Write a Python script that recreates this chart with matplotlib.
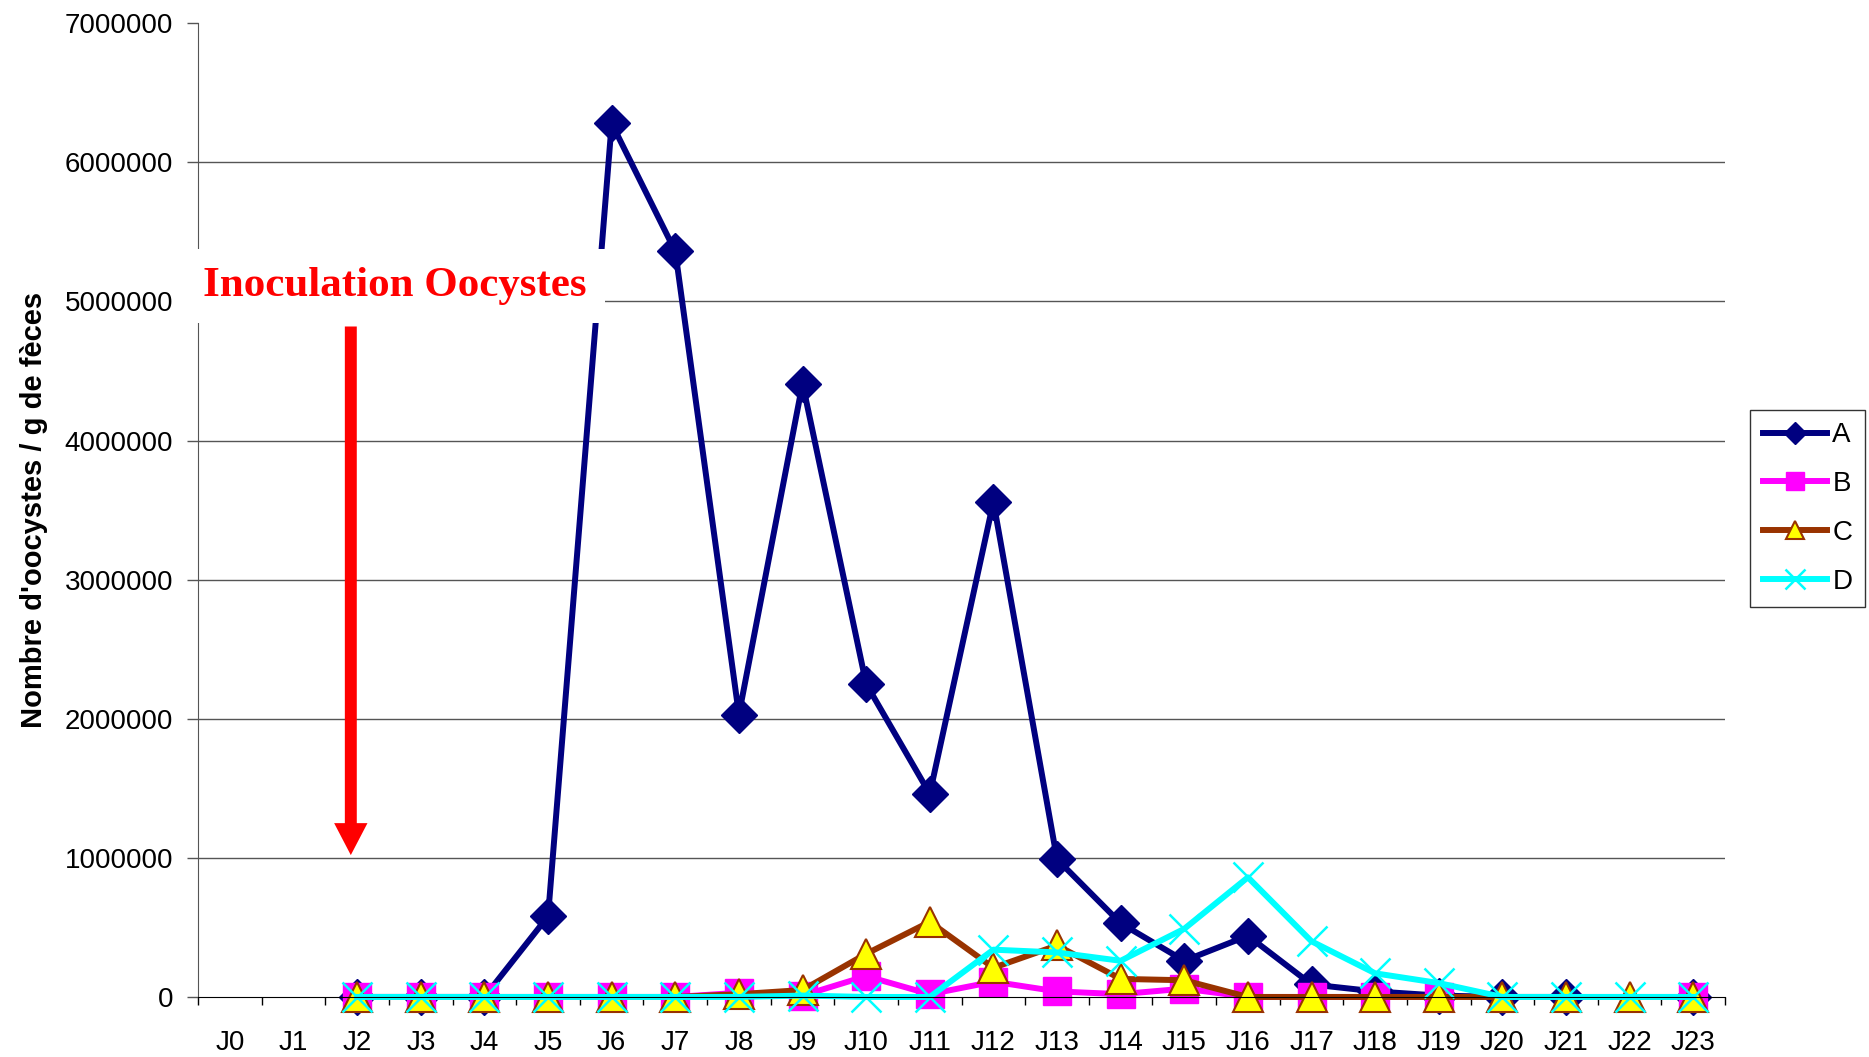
import matplotlib.pyplot as plt
import numpy as np

plt.rcParams['font.family'] = ['Liberation Sans', 'DejaVu Sans']

jours = [f"J{i}" for i in range(24)]
nan = np.nan

serie_a = [nan, nan, 0, 0, 0, 580000, 6280000, 5360000, 2030000, 4410000, 2250000,
           1460000, 3560000, 990000, 530000, 260000, 440000, 90000, 40000, 10000,
           0, 0, nan, 0]
serie_b = [nan, nan, 0, 0, 0, 0, 0, 0, 30000, 10000, 150000, 20000, 110000,
           40000, 20000, 60000, 0, 0, 0, 0, nan, nan, nan, 0]
serie_c = [nan, nan, 0, 0, 0, 0, 0, 0, 20000, 50000, 310000, 540000, 210000,
           370000, 130000, 120000, 0, 0, 0, 0, 0, 0, 0, 0]
serie_d = [nan, nan, 0, 0, 0, 0, 0, 0, 0, 10000, 0, 0, 340000, 320000,
           260000, 490000, 860000, 400000, 170000, 100000, 0, 0, 0, 0]

y_ticks = np.arange(0, 7000001, 1000000)

fig = plt.figure(figsize=(18.69, 10.57), dpi=100)
ax = fig.add_axes([0.106, 0.0568, 0.817, 0.9212])

x = np.arange(len(jours))
ax.plot(x, serie_a, color='#000080', lw=4.3, marker='D', ms=18,
        mfc='#000080', mec='#000080', label='A', clip_on=False)
ax.plot(x, serie_b, color='#FF00FF', lw=4.3, marker='s', ms=20,
        mfc='#FF00FF', mec='#FF00FF', label='B', clip_on=False)
ax.plot(x, serie_c, color='#993300', lw=4.3, marker='^', ms=21,
        mfc='#FFFF00', mec='#993300', mew=1.5, label='C', clip_on=False)
ax.plot(x, serie_d, color='#00FFFF', lw=4.3, marker='x', ms=22,
        mec='#00FFFF', mew=1.8, label='D', clip_on=False)

ax.set_xlim(-0.5, 23.5)
ax.set_ylim(0, 7000000)
ax.set_yticks(y_ticks)
ax.set_yticklabels([str(v) for v in y_ticks], fontsize=20)
ax.set_xticks(x)
ax.set_xticklabels(jours, fontsize=20)
ax.set_xticks(np.arange(-0.5, 24, 1), minor=True)
ax.tick_params(axis='x', which='major', length=0, pad=24)
ax.tick_params(axis='x', which='minor', length=6, width=1, color='black', direction='out')
ax.tick_params(axis='y', length=8, width=1, color='#555555', pad=10)

for v in y_ticks[1:-1]:
    ax.axhline(v, color='#555555', lw=1, zorder=0)

for s in ['top', 'right']:
    ax.spines[s].set_visible(False)
ax.spines['left'].set_color('#555555')
ax.spines['bottom'].set_color('black')

ax.set_ylabel("Nombre d'oocystes / g de fèces", fontsize=21, fontweight='bold', labelpad=12)

ax.text(2.59, 5110000, "Inoculation Oocystes", fontsize=31, fontweight='bold',
        family=['Liberation Serif', 'DejaVu Serif'], color='red', ha='center', va='center',
        zorder=10, bbox=dict(facecolor='white', edgecolor='none', pad=13), clip_on=False)
ax.annotate('', xy=(1.9, 1020000), xytext=(1.9, 4820000),
            arrowprops=dict(width=8.6, headwidth=24, headlength=23, shrink=0,
                            facecolor='red', edgecolor='none'), zorder=9)

leg = ax.legend(loc='center left', bbox_to_anchor=(0.9365, 0.519), bbox_transform=fig.transFigure,
                fontsize=20, frameon=True, fancybox=False, borderaxespad=0, handlelength=2.3,
                labelspacing=0.82, handletextpad=0.2, borderpad=0.45, markerscale=0.65)
leg.get_frame().set_edgecolor('black')
leg.get_frame().set_linewidth(1)

fig.savefig('out.png', dpi=100)
